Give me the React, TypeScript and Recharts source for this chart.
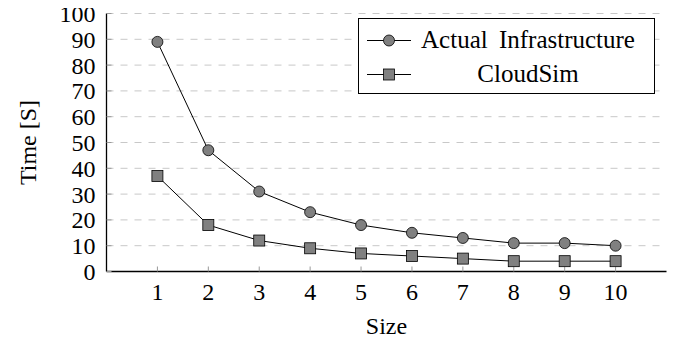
import { LineChart, Line, XAxis, YAxis, CartesianGrid, Legend } from 'recharts'

const sizes = [1, 2, 3, 4, 5, 6, 7, 8, 9, 10]
const actualInfra = [89, 47, 31, 23, 18, 15, 13, 11, 11, 10]
const cloudSim = [37, 18, 12, 9, 7, 6, 5, 4, 4, 4]
const xTicks = [1, 2, 3, 4, 5, 6, 7, 8, 9, 10]
const yTicks = [0, 10, 20, 30, 40, 50, 60, 70, 80, 90, 100]

const data = sizes.map((s, i) => ({ size: s, actual: actualInfra[i], cloudsim: cloudSim[i] }))

const FONT = '"Liberation Serif", "Times New Roman", serif'
const MARK_FILL = '#808080'
const FRAME = { stroke: '#000', strokeWidth: 1.3 }
const noLabel = () => ''

const CircleDot = (props: any) => {
  const { cx, cy } = props
  if (cx == null || cy == null) return null
  return <circle cx={cx} cy={cy} r={5.5} fill={MARK_FILL} stroke="#000" strokeWidth={0.8} />
}

const SquareDot = (props: any) => {
  const { cx, cy } = props
  if (cx == null || cy == null) return null
  return (
    <rect x={cx - 5.5} y={cy - 5.5} width={11} height={11} fill={MARK_FILL} stroke="#000" strokeWidth={0.8} />
  )
}

const LegendBox = () => {
  const row = (name: string, square: boolean) => (
    <div style={{ display: 'flex', alignItems: 'center', height: 34 }}>
      <svg width={56} height={20} style={{ flexShrink: 0 }}>
        <line x1={8} y1={10.5} x2={52} y2={10.5} stroke="#000" strokeWidth={1} />
        {square ? (
          <rect x={24.5} y={5} width={11} height={11} fill={MARK_FILL} stroke="#000" strokeWidth={0.8} />
        ) : (
          <circle cx={30} cy={10.5} r={5.5} fill={MARK_FILL} stroke="#000" strokeWidth={0.8} />
        )}
      </svg>
      <span
        style={{
          width: 226,
          textAlign: 'center',
          fontSize: 25,
          wordSpacing: 5,
          fontFamily: FONT,
          color: '#000',
          whiteSpace: 'nowrap',
        }}
      >
        {name}
      </span>
    </div>
  )
  return (
    <div
      style={{
        border: '1.3px solid #000',
        background: '#fff',
        padding: '4px 0',
        boxSizing: 'border-box',
        width: 297,
        height: 76,
      }}
    >
      {row('Actual Infrastructure', false)}
      {row('CloudSim', true)}
    </div>
  )
}

export default function App() {
  return (
    <LineChart
      width={690}
      height={335}
      data={data}
      margin={{ top: 5.5, right: 31.5, bottom: 0, left: 0.5 }}
      style={{ fontFamily: FONT }}
    >
      <CartesianGrid horizontal vertical={false} stroke="#c8c8c8" strokeDasharray="7 7" />
      <XAxis
        dataKey="size"
        type="number"
        domain={[0, 11]}
        ticks={xTicks}
        interval={0}
        height={71.5}
        tickSize={-5}
        tickMargin={16}
        axisLine={FRAME}
        tickLine={{ stroke: '#999' }}
        tick={{ fill: '#000', fontSize: 24, fontFamily: FONT }}
        label={{
          content: (p: any) => {
            const vb = p.viewBox
            return (
              <text x={vb.x + vb.width / 2} y={vb.y + 62} textAnchor="middle" fontSize={24} fontFamily={FONT} fill="#000">
                Size
              </text>
            )
          },
        }}
      />
      <XAxis
        xAxisId="top"
        dataKey="size"
        type="number"
        orientation="top"
        domain={[0, 11]}
        ticks={xTicks}
        interval={0}
        height={0}
        tickSize={-5}
        tickFormatter={noLabel}
        axisLine={FRAME}
        tickLine={{ stroke: '#999' }}
      />
      <YAxis
        type="number"
        domain={[0, 100]}
        ticks={yTicks}
        interval={0}
        width={98}
        tickSize={-5}
        tickMargin={16}
        axisLine={FRAME}
        tickLine={{ stroke: '#999' }}
        tick={{ fill: '#000', fontSize: 24, fontFamily: FONT }}
        label={{
          content: (p: any) => {
            const vb = p.viewBox
            const cx = vb.x + 27
            const cy = vb.y + vb.height / 2
            return (
              <text
                x={cx}
                y={cy}
                textAnchor="middle"
                transform={`rotate(-90 ${cx} ${cy})`}
                fontSize={24}
                fontFamily={FONT}
                fill="#000"
              >
                Time [S]
              </text>
            )
          },
        }}
      />
      <YAxis
        yAxisId="right"
        orientation="right"
        type="number"
        domain={[0, 100]}
        ticks={yTicks}
        interval={0}
        width={0}
        tickSize={-5}
        tickFormatter={noLabel}
        axisLine={FRAME}
        tickLine={{ stroke: '#999' }}
      />
      <Legend
        layout="horizontal"
        align="center"
        verticalAlign="middle"
        content={() => <LegendBox />}
        wrapperStyle={{ position: 'absolute', left: 350, top: 10, width: 297, height: 76 }}
      />
      <Line
        dataKey="actual"
        name="Actual Infrastructure"
        stroke="#000"
        strokeWidth={1}
        dot={<CircleDot />}
        isAnimationActive={false}
      />
      <Line
        dataKey="cloudsim"
        name="CloudSim"
        stroke="#000"
        strokeWidth={1}
        dot={<SquareDot />}
        isAnimationActive={false}
      />
    </LineChart>
  )
}
